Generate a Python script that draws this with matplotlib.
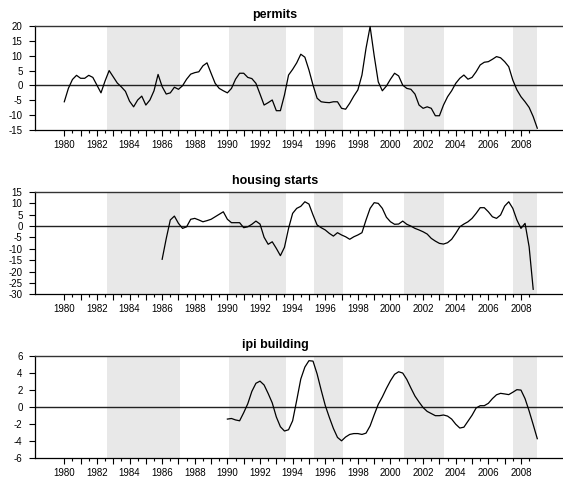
import numpy as np
import matplotlib
matplotlib.use("Agg")
import matplotlib.pyplot as plt
from matplotlib.transforms import ScaledTranslation

plt.rcParams['font.family'] = ['Liberation Sans', 'DejaVu Sans']

# ---------------- data (quarterly, first quarter index relative to 1980Q1) ----------------
first_year = 1980.0

permits_first_q = 0
permits = [-5.5, -1.0, 2.0, 3.4, 2.4, 2.4, 3.4, 2.7, 0.1, -2.5,
           1.5, 5.0, 2.9, 0.8, -0.5, -2.0, -5.3, -7.2, -4.9, -3.6,
           -6.6, -4.9, -1.8, 3.7, -0.4, -2.9, -2.5, -0.6, -1.3, -0.1,
           2.1, 3.8, 4.3, 4.6, 6.6, 7.6, 4.1, 0.7, -1.0, -1.8,
           -2.5, -1.0, 2.1, 4.1, 4.1, 2.7, 2.3, 0.7, -2.9, -6.6,
           -5.8, -4.9, -8.5, -8.5, -3.2, 3.5, 5.4, 7.6, 10.5, 9.5,
           5.2, 0.1, -4.3, -5.5, -5.7, -5.8, -5.5, -5.5, -7.7, -8.0,
           -6.0, -3.6, -1.5, 3.5, 12.5, 19.8, 10.0, 1.2, -1.8, -0.2,
           2.1, 4.1, 3.2, 0.1, -1.0, -1.3, -2.9, -6.6, -7.7, -7.2,
           -7.7, -10.2, -10.2, -6.6, -3.8, -1.8, 0.7, 2.4, 3.5, 2.1,
           2.7, 4.6, 6.9, 7.8, 8.0, 8.8, 9.7, 9.3, 8.0, 6.3,
           1.8, -1.5, -3.8, -5.5, -7.4, -10.5, -14.4]

housing_first_q = 24
housing = [-14.6, -5.5, 2.7, 4.4, 1.2, -1.0, -0.3, 3.0, 3.4, 2.7,
           1.9, 2.4, 3.0, 4.1, 5.2, 6.3, 3.0, 1.5, 1.5, 1.5,
           -0.7, -0.3, 0.8, 2.2, 0.9, -4.9, -8.0, -6.9, -9.8, -13.0,
           -9.3, -1.0, 5.6, 7.8, 8.7, 10.7, 9.7, 4.9, 0.5, -0.7,
           -1.7, -3.2, -4.4, -2.9, -3.9, -4.7, -5.8, -4.7, -3.9, -2.9,
           2.7, 7.8, 10.3, 10.0, 7.8, 3.9, 1.9, 0.8, 0.9, 2.2,
           0.8, 0.0, -1.0, -1.7, -2.5, -3.5, -5.4, -6.6, -7.6, -7.9,
           -7.3, -5.8, -3.2, -0.3, 0.9, 1.9, 3.4, 5.6, 8.1, 8.1,
           6.3, 4.1, 3.4, 4.9, 8.8, 10.7, 7.8, 2.7, -1.0, 1.2,
           -9.1, -27.8]

ipi_first_q = 40
ipi = [-1.4, -1.33, -1.5, -1.6, -0.65, 0.4, 1.85, 2.8, 3.05, 2.6,
       1.6, 0.5, -1.15, -2.3, -2.8, -2.65, -1.6, 0.8, 3.3, 4.7,
       5.45, 5.4, 3.9, 2.0, 0.2, -1.2, -2.5, -3.55, -3.95, -3.5,
       -3.2, -3.1, -3.1, -3.2, -3.05, -2.2, -0.9, 0.33, 1.2, 2.2,
       3.1, 3.85, 4.15, 4.0, 3.25, 2.25, 1.3, 0.6, -0.05, -0.5,
       -0.75, -1.0, -1.0, -0.92, -1.05, -1.4, -2.0, -2.45, -2.35, -1.65,
       -0.95, -0.1, 0.17, 0.17, 0.45, 1.0, 1.45, 1.62, 1.55, 1.47,
       1.75, 2.05, 2.0, 1.0, -0.45, -2.05, -3.7]

titles = ['permits', 'housing starts', 'ipi building']
y_limits = [(-15, 20), (-30, 15), (-6, 6)]
y_steps = [5, 5, 2]

shade_start = [1982.62, 1990.08, 1995.30, 2000.80, 2007.50]
shade_end = [1987.09, 1993.62, 1997.06, 2003.30, 2009.00]

label_years = list(range(1980, 2009, 2))

# ---------------- figure ----------------
W, H = 563, 479
fig = plt.figure(figsize=(W / 100, H / 100), dpi=100)

panel_px = [(26, 130), (192, 294.3), (356, 458.3)]  # top, bottom in pixels
left_px = 35

series = [(permits_first_q, permits), (housing_first_q, housing), (ipi_first_q, ipi)]

for i, (title, (q0, vals)) in enumerate(zip(titles, series)):
    top, bot = panel_px[i]
    ax = fig.add_axes([left_px / W, 1 - bot / H, 1 - left_px / W, (bot - top) / H])
    for s, e in zip(shade_start, shade_end):
        ax.axvspan(s, e, color='#e8e8e8', lw=0, zorder=0)
    ax.axhline(0, color='#222222', lw=1.0, zorder=1)
    t = first_year + 0.25 * (q0 + np.arange(len(vals)))
    ax.plot(t, vals, color='black', lw=0.9, zorder=3)

    ax.set_xlim(1978.204, 2010.577)
    lo, hi = y_limits[i]
    ax.set_ylim(lo, hi)
    yt = np.arange(lo, hi + 0.1, y_steps[i])
    ax.set_yticks(yt)
    ax.set_yticklabels([f"{int(v)}" for v in yt])

    years = np.arange(1980, 2009)
    ax.set_xticks(years)
    ax.set_xticklabels([str(y) if y in label_years else '' for y in years])
    ax.set_xticks(np.arange(1980.5, 2009, 1.0), minor=True)

    offset = ScaledTranslation(4 / 100, 0, fig.dpi_scale_trans)
    for lbl in ax.get_xticklabels():
        lbl.set_transform(lbl.get_transform() + offset)

    ax.tick_params(axis='x', which='major', direction='out', length=4, width=0.8,
                   labelsize=7, pad=3, color='black')
    ax.tick_params(axis='x', which='minor', direction='out', length=2.5, width=0.8,
                   color='black')
    ax.tick_params(axis='y', direction='out', length=4, width=0.8, labelsize=7, pad=5)

    ax.spines['right'].set_visible(False)
    ax.spines['top'].set_color('#333333')
    ax.spines['top'].set_linewidth(1.0)
    ax.spines['left'].set_linewidth(0.9)
    ax.spines['bottom'].set_linewidth(0.9)
    ax.set_facecolor('white')

    ax.set_title(title, fontsize=9, fontweight='bold', pad=6,
                 x=(275 - left_px) / (W - left_px))

fig.savefig('out.png', dpi=100)
